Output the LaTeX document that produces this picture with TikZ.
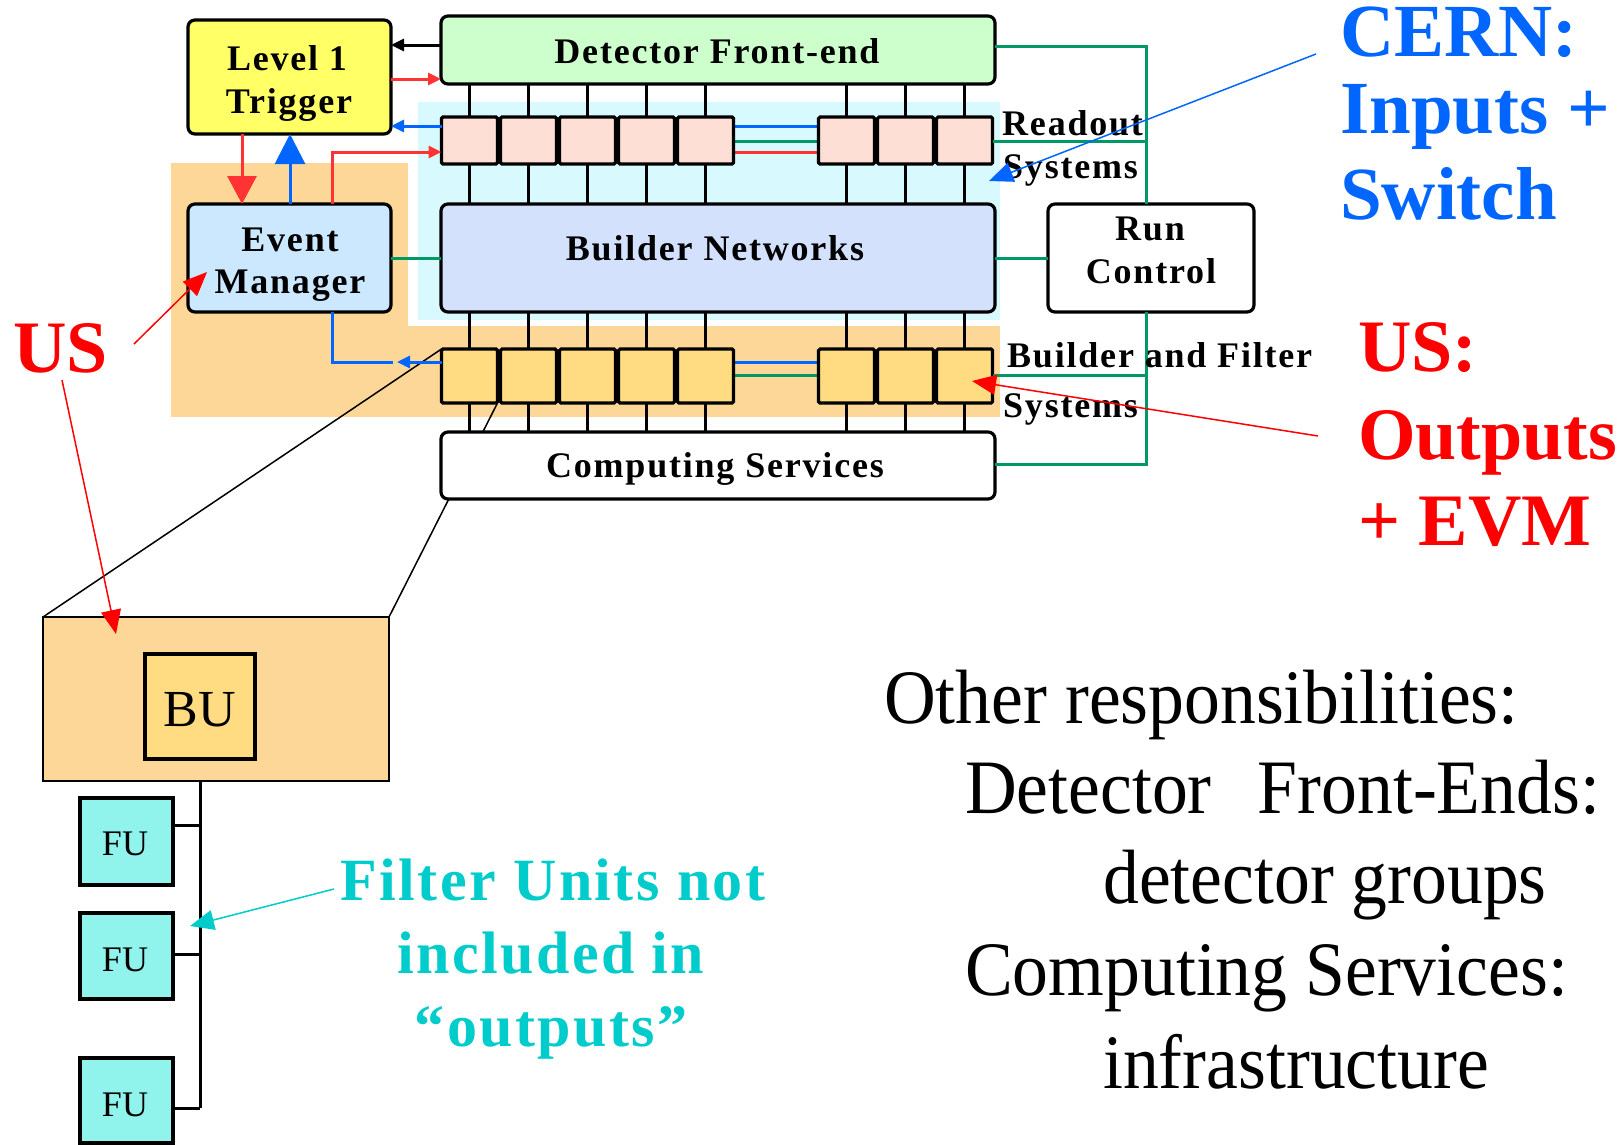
\documentclass[tikz,border=0pt]{standalone}
\usepackage{fontspec}
\setmainfont{Liberation Serif}
\newfontfamily\lblfont[LetterSpace=5]{Liberation Serif}
\newfontfamily\condfont[FakeStretch=0.93]{Liberation Serif}
\newfontfamily\cyfont[LetterSpace=4]{Liberation Serif}
\usetikzlibrary{arrows.meta}
\pgfdeclarelayer{bg}
\pgfsetlayers{bg,main}
\definecolor{ltyellow}{HTML}{FFFF66}
\definecolor{dfegreen}{HTML}{CCFFCC}
\definecolor{peach}{HTML}{FDDFD5}
\definecolor{ltcyan}{HTML}{D8FAFE}
\definecolor{bnblue}{HTML}{D3E1FD}
\definecolor{evmblue}{HTML}{CCE8FF}
\definecolor{orangebg}{HTML}{FDD797}
\definecolor{bfyel}{HTML}{FFDB82}
\definecolor{fucyan}{HTML}{90F3EC}
\definecolor{cblue}{HTML}{0066FF}
\definecolor{cred}{HTML}{FF3333}
\definecolor{pred}{HTML}{FF0000}
\definecolor{cgreen}{HTML}{009966}
\definecolor{tcyan}{HTML}{00CCCC}
\tikzset{
  box/.style={draw=black, line width=3.2pt, rounded corners=7pt, inner sep=0pt, outer sep=0pt},
  cell/.style={draw=black, line width=3.2pt, rounded corners=1.5pt, minimum width=56pt, inner sep=0pt, outer sep=0pt},
  sqbox/.style={draw=black, line width=3.2pt, inner sep=0pt, outer sep=0pt},
  vline/.style={draw=black, line width=3pt},
  gline/.style={draw=cgreen, line width=3pt},
  bline/.style={draw=cblue, line width=3pt},
  rline/.style={draw=cred, line width=3pt},
  smalltip/.style={-{Triangle[length=13pt,width=12pt]}},
  thinarrow/.style={line width=1.5pt, -{Triangle[length=24pt,width=20pt]}},
  lbl/.style={inner sep=0pt, anchor=base, font=\lblfont\bfseries\fontsize{36}{40}\selectfont},
  lblw/.style={lbl, anchor=base west},
  bigtxt/.style={inner sep=0pt, anchor=base west, font=\bfseries\fontsize{75}{80}\selectfont},
  redtxt/.style={inner sep=0pt, anchor=base west, text=pred, font=\bfseries\fontsize{74}{78}\selectfont},
  othertxt/.style={inner sep=0pt, anchor=base west, font=\condfont\fontsize{77}{80}\selectfont},
  cytxt/.style={inner sep=0pt, anchor=base, text=tcyan, font=\cyfont\bfseries\fontsize{60}{64}\selectfont},
}
\begin{document}
\begin{tikzpicture}[x=1pt,y=-1pt]
\useasboundingbox (0,0) rectangle (1623,1144);

% ---------- main boxes ----------
\node[box, fill=ltyellow, minimum width=203pt, minimum height=114pt] (l1) at (289.5,77) {};
\node[box, fill=evmblue, minimum width=203pt, minimum height=108pt] (evm) at (289.5,258) {};
\node[box, fill=dfegreen, minimum width=554pt, minimum height=68pt] (dfe) at (718,50) {};
\node[box, fill=bnblue, minimum width=554pt, minimum height=108pt] (bn) at (718,258) {};
\node[box, fill=white, minimum width=554pt, minimum height=67pt] (cs) at (718,465.5) {};
\node[box, fill=white, minimum width=206pt, minimum height=108pt] (rc) at (1151,258) {};

\foreach \i/\x in {1/469.5,2/528.5,3/587.5,4/646.5,5/705.5,6/846.5,7/905.5,8/964.5} {
  \node[cell, fill=peach, minimum height=47pt] (ro\i) at (\x,140.5) {};
  \node[cell, fill=bfyel, minimum height=54pt] (bf\i) at (\x,376) {};
}

% ---------- expanded view ----------
\node[draw=black, line width=1.5pt, fill=orangebg, minimum width=346pt, minimum height=164pt, inner sep=0pt, outer sep=0pt] (exp) at (216,699) {};
\node[sqbox, fill=bfyel, minimum width=110pt, minimum height=105pt] (bu) at (200,706.5) {};
\node[sqbox, fill=fucyan, minimum width=93pt, minimum height=87pt] (fu1) at (126.5,841.5) {};
\node[sqbox, fill=fucyan, minimum width=93pt, minimum height=86pt] (fu2) at (126.5,956) {};
\node[sqbox, fill=fucyan, minimum width=93pt, minimum height=85pt] (fu3) at (126.5,1100.5) {};

% ---------- helper coordinates ----------
\coordinate (xbus) at (1146,0);
\coordinate (yk) at (0,45);
\coordinate (yrr) at (0,79);
\coordinate (yrb) at (0,126);
\coordinate (yrg) at (0,141);
\coordinate (yrr2) at (0,152);
\coordinate (ybb) at (0,362);
\coordinate (ybg) at (0,375);
\coordinate (ydfe) at (0,46);
\coordinate (ycs) at (0,464);
\coordinate (xdn) at (242,0);
\coordinate (xup) at (290,0);
\coordinate (xred) at (332,0);
\coordinate (evtip) at (397,362);
\coordinate (evline) at (393,362);
\coordinate (bustub) at (200,635);
\coordinate (yf1) at (0,825);
\coordinate (yf2) at (0,954);
\coordinate (yf3) at (0,1108);
\coordinate (cernfrom) at (1316,54);
\coordinate (cerntip) at (989,181);
\coordinate (outfrom) at (1318,436);
\coordinate (outtip) at (972,381);
\coordinate (usfrom1) at (134,344);
\coordinate (ustip1) at (207,272);
\coordinate (usfrom2) at (62,380);
\coordinate (ustip2) at (116,634);
\coordinate (fufrom) at (334,889);
\coordinate (futip) at (190,926);

% ---------- background layer ----------
\begin{pgfonlayer}{bg}
  \fill[white] (0,0) rectangle (1623,1144);
  \fill[orangebg] (171,163) rectangle (408,417);
  \fill[orangebg] (408,326) rectangle (1000,417);
  \fill[ltcyan] (418,102) rectangle (1000,320);
  % expansion lines
  \draw[line width=1.5pt] (bf1.north west) -- (exp.north west);
  \draw[line width=1.5pt] (bf1.south east) -- (exp.north east);
  % lines running behind the cells
  \draw[bline] (ro1.center |- yrb) -- (ro6.center |- yrb);
  \draw[gline] (ro1.center |- yrg) -- (ro6.center |- yrg);
  \draw[rline] (ro1.center |- yrr2) -- (ro6.center |- yrr2);
  \draw[bline] (bf1.center |- ybb) -- (bf6.center |- ybb);
  \draw[gline] (bf1.center |- ybg) -- (bf6.center |- ybg);
  % vertical links
  \foreach \i in {1,...,8} {
    \draw[vline] (dfe.south -| ro\i) -- (ro\i.north);
    \draw[vline] (ro\i.south) -- (bn.north -| ro\i);
    \draw[vline] (bn.south -| ro\i) -- (bf\i.north);
    \draw[vline] (bf\i.south) -- (cs.north -| ro\i);
  }
  % BU / FU tree
  \draw[vline] (bustub) -- (bu.north);
  \draw[vline] (bu.south) -- (bu.south |- yf3);
  \draw[vline] (fu1.east |- yf1) -- (bu.south |- yf1);
  \draw[vline] (fu2.east |- yf2) -- (bu.south |- yf2);
  \draw[vline] (fu3.east |- yf3) -- (bu.south |- yf3);
\end{pgfonlayer}

% ---------- green control bus ----------
\draw[gline] (dfe.east |- ydfe) -- (xbus |- ydfe) -- (rc.north -| xbus);
\draw[gline] (rc.south -| xbus) -- (xbus |- ycs) -- (cs.east |- ycs);
\draw[gline] (ro8.east |- yrg) -- (xbus |- yrg);
\draw[gline] (bf8.east |- ybg) -- (xbus |- ybg);
\draw[gline] (bn.east) -- (rc.west);
\draw[gline] (evm.east) -- (bn.west);

% ---------- trigger / event manager arrows ----------
\draw[line width=3pt, smalltip] (dfe.west |- yk) -- (l1.east |- yk);
\draw[rline, smalltip] (l1.east |- yrr) -- (dfe.west |- yrr);
\draw[bline, smalltip] (ro1.west |- yrb) -- (l1.east |- yrb);
\draw[rline, smalltip] (evm.north -| xred) |- (ro1.west |- yrr2);
\draw[rline, -{Triangle[length=28pt,width=29pt]}] (l1.south -| xdn) -- (evm.north -| xdn);
\draw[bline, -{Triangle[length=30pt,width=30pt]}] (evm.north -| xup) -- (l1.south -| xup);
\draw[bline, smalltip] (bf1.west |- ybb) -- (evtip);
\draw[bline] (evline) -| (evm.south -| xred);

% ---------- box labels ----------
\node[lbl] (t1) at (287,70) {Level 1};
\node[lbl] (t2) at (289,113) {Trigger};
\node[lbl] (t3) at (290,251) {Event};
\node[lbl] (t4) at (290,293) {Manager};
\node[lbl] (t5) at (717,63) {Detector Front-end};
\node[lbl] (t6) at (715,260) {Builder Networks};
\node[lbl] (t7) at (715,477) {Computing Services};
\node[lbl] (t8) at (1150,240) {Run};
\node[lbl] (t9) at (1151,283) {Control};
\node[lblw] (t10) at (1002,135) {Readout};
\node[lblw] (t11) at (1003,178) {Systems};
\node[lblw] (t12) at (1007,367) {Builder and Filter};
\node[lblw] (t13) at (1003,417) {Systems};
\node[inner sep=0pt, anchor=base, font=\fontsize{52}{56}\selectfont] (tbu) at (200,726) {BU};
\node[inner sep=0pt, anchor=base, font=\fontsize{36}{40}\selectfont] (tfu1) at (125,855) {FU};
\node[inner sep=0pt, anchor=base, font=\fontsize{36}{40}\selectfont] (tfu2) at (125,971) {FU};
\node[inner sep=0pt, anchor=base, font=\fontsize{36}{40}\selectfont] (tfu3) at (125,1116) {FU};

% ---------- annotations ----------
\node[bigtxt, text=cblue, text height=52pt] (cern1) at (1340,56) {CERN:};
\node[bigtxt, text=cblue] (cern2) at (1340,133) {Inputs +};
\node[bigtxt, text=cblue] (cern3) at (1340,219) {Switch};
\node[redtxt] (us1) at (1358,371) {US:};
\node[redtxt] (us2) at (1358,459) {Outputs};
\node[redtxt] (us3) at (1358,545) {+ EVM};
\node[redtxt] (usl) at (13,372) {US};

\node[cytxt] (c1) at (553,900) {Filter Units not};
\node[cytxt] (c2) at (551,973) {included in};
\node[cytxt] (c3) at (551,1046) {“outputs”};

\node[othertxt] (o1) at (884,723) {Other responsibilities:};
\node[othertxt] (o2) at (965,813) {Detector\hspace{0.6em}Front-Ends:};
\node[othertxt] (o3) at (1103,903) {detector groups};
\node[othertxt] (o4) at (965,995) {Computing Services:};
\node[othertxt] (o5) at (1103,1088) {infrastructure};

\draw[cblue, thinarrow] (cernfrom) -- (cerntip);
\draw[pred, thinarrow] (outfrom) -- (outtip);
\draw[pred, thinarrow] (usfrom1) -- (ustip1);
\draw[pred, thinarrow] (usfrom2) -- (ustip2);
\draw[tcyan, thinarrow] (fufrom) -- (futip);
\end{tikzpicture}
\end{document}
